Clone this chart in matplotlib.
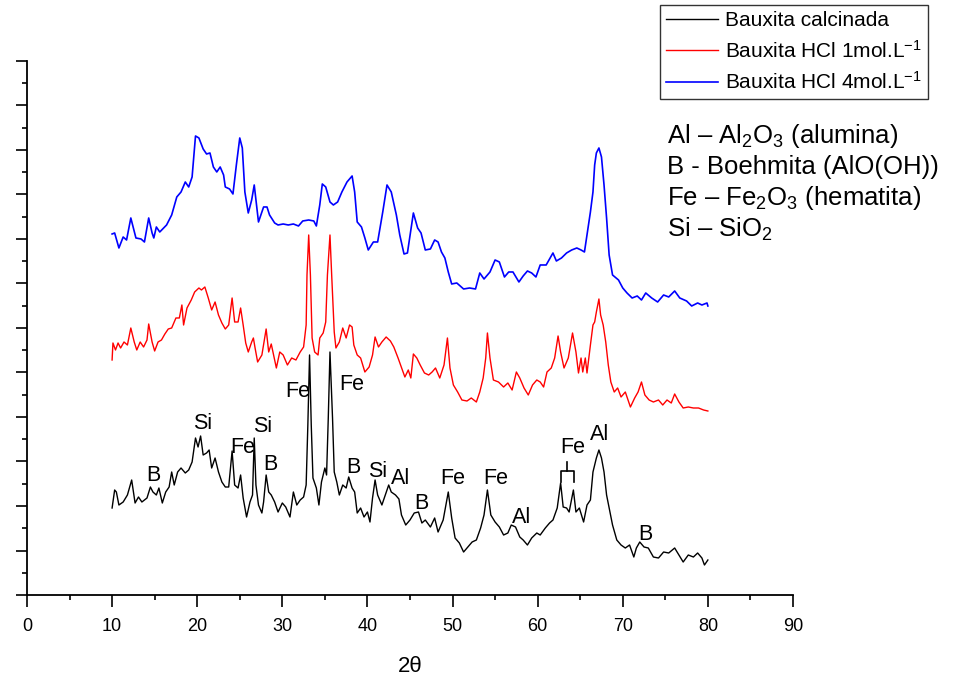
import matplotlib
matplotlib.use("Agg")
import matplotlib.pyplot as plt
from matplotlib.ticker import MultipleLocator

# --- data (2theta, intensity in arbitrary units) ---
blue_x = [10.0, 10.3, 10.8, 11.3, 11.7, 12.2, 12.8, 13.4, 13.8, 14.3, 14.7, 14.9, 15.2, 15.6,
          16.4, 17.0, 17.6, 18.1, 18.6, 19.0, 19.4, 19.8, 20.2, 20.7, 21.1, 21.5, 21.9, 22.3,
          22.7, 23.1, 23.3, 23.8, 24.2, 24.6, 25.0, 25.3, 25.6, 26.0, 26.4, 26.7, 27.2, 27.8,
          28.2, 28.5, 29.1, 29.5, 30.1, 30.7, 31.3, 31.9, 32.4, 33.1, 33.7, 34.0, 34.4, 34.7,
          35.1, 35.6, 36.0, 36.5, 37.0, 37.6, 38.2, 38.5, 38.8, 39.3, 39.7, 40.1, 40.7, 41.2,
          41.8, 42.3, 42.8, 43.4, 43.8, 44.3, 44.7, 45.4, 45.9, 46.3, 46.8, 47.4, 47.9, 48.3,
          48.7, 49.1, 49.5, 49.9, 50.5, 51.3, 52.0, 52.7, 53.2, 53.7, 54.4, 55.0, 55.5, 56.1,
          56.6, 57.1, 57.8, 58.3, 58.8, 59.3, 59.8, 60.3, 61.0, 61.8, 62.2, 62.8, 63.4, 64.0,
          64.6, 65.1, 65.5, 65.8, 66.2, 66.5, 66.7, 66.9, 67.2, 67.5, 67.8, 68.1, 68.4, 68.8,
          69.5, 70.0, 70.5, 71.1, 71.7, 72.2, 72.7, 73.4, 74.1, 74.8, 75.4, 76.1, 76.7, 77.5,
          78.1, 78.8, 79.3, 79.9, 80.0]
blue_y = [361, 362, 347, 358, 355, 377, 357, 356, 353, 377, 362, 357, 368, 363,
          370, 380, 398, 403, 413, 408, 418, 459, 457, 446, 441, 442, 428, 423,
          428, 420, 408, 406, 401, 430, 457, 447, 403, 382, 395, 410, 373, 388,
          388, 380, 372, 370, 371, 370, 371, 369, 374, 375, 374, 369, 390, 411,
          408, 393, 390, 393, 403, 413, 419, 403, 373, 368, 357, 345, 353, 353,
          383, 410, 403, 380, 360, 341, 342, 382, 367, 362, 345, 346, 355, 353,
          343, 337, 323, 311, 312, 306, 307, 306, 322, 316, 323, 335, 333, 318,
          323, 323, 313, 319, 324, 322, 318, 330, 330, 342, 334, 337, 342, 345,
          347, 345, 343, 360, 383, 403, 430, 442, 447, 438, 410, 377, 340, 320,
          315, 307, 302, 297, 299, 295, 302, 297, 293, 300, 298, 304, 297, 294,
          289, 292, 290, 292, 289]

red_x = [10.0, 10.1, 10.4, 10.7, 11.0, 11.4, 11.8, 12.2, 12.6, 12.9, 13.3, 13.7, 14.1, 14.3,
         14.7, 15.0, 15.4, 15.8, 16.2, 16.6, 17.0, 17.5, 17.9, 18.2, 18.4, 18.8, 19.3, 19.7,
         20.2, 20.5, 20.9, 21.3, 21.7, 22.1, 22.5, 22.9, 23.3, 23.7, 24.1, 24.4, 24.8, 25.1,
         25.4, 25.7, 26.0, 26.4, 26.6, 26.8, 27.1, 27.6, 28.1, 28.4, 28.7, 29.3, 29.7, 30.1,
         30.6, 31.1, 31.6, 32.1, 32.5, 32.8, 32.9, 33.1, 33.3, 33.5, 33.8, 34.2, 34.4, 34.8,
         35.1, 35.3, 35.6, 35.8, 36.1, 36.3, 36.7, 37.1, 37.5, 37.9, 38.2, 38.4, 38.8, 39.2,
         39.7, 40.2, 40.6, 40.9, 41.3, 41.7, 42.2, 42.7, 43.1, 43.6, 44.1, 44.4, 44.8, 45.1,
         45.4, 45.8, 46.2, 46.7, 47.2, 47.6, 48.0, 48.5, 49.0, 49.4, 49.7, 50.1, 50.6, 51.1,
         51.7, 52.2, 52.8, 53.2, 53.6, 53.9, 54.1, 54.4, 54.8, 55.4, 56.0, 56.5, 57.0, 57.5,
         57.9, 58.4, 58.9, 59.4, 59.9, 60.3, 60.7, 61.1, 61.6, 62.0, 62.4, 62.7, 63.1, 63.6,
         64.1, 64.5, 64.8, 65.1, 65.3, 65.6, 65.8, 66.2, 66.5, 66.7, 66.9, 67.2, 67.4, 67.7,
         68.0, 68.3, 68.6, 69.0, 69.4, 69.8, 70.3, 70.9, 71.4, 71.8, 72.2, 72.6, 73.1, 73.6,
         74.2, 74.7, 75.2, 75.7, 76.1, 76.6, 77.1, 77.7, 78.3, 78.9, 79.5, 80.0]
red_y = [235, 252, 245, 252, 247, 253, 250, 267, 253, 245, 253, 248, 255, 271,
         253, 244, 253, 255, 261, 266, 267, 277, 277, 290, 270, 287, 295, 303,
         307, 305, 308, 297, 285, 293, 280, 272, 266, 270, 297, 273, 273, 287,
         270, 252, 243, 253, 257, 247, 233, 240, 266, 243, 251, 227, 243, 240,
         230, 237, 235, 243, 248, 270, 320, 360, 320, 257, 243, 240, 257, 262,
         273, 320, 360, 320, 263, 247, 253, 267, 257, 270, 268, 250, 240, 237,
         223, 228, 240, 258, 248, 253, 258, 254, 248, 237, 225, 218, 225, 217,
         241, 237, 230, 222, 220, 223, 227, 217, 230, 257, 227, 210, 203, 195,
         194, 197, 193, 203, 217, 237, 262, 237, 215, 213, 208, 212, 205, 223,
         217, 207, 200, 210, 215, 213, 208, 223, 227, 237, 259, 243, 227, 237,
         262, 243, 222, 237, 223, 237, 222, 250, 270, 273, 283, 296, 280, 270,
         253, 230, 213, 203, 207, 198, 203, 188, 197, 203, 213, 200, 195, 193,
         195, 190, 195, 192, 201, 193, 187, 188, 187, 187, 185, 184]

black_x = [10.0, 10.3, 10.5, 10.8, 11.3, 11.8, 12.3, 12.7, 13.1, 13.5, 14.1, 14.5, 14.8, 15.2,
           15.5, 15.9, 16.3, 16.7, 17.0, 17.3, 17.7, 18.1, 18.6, 19.0, 19.4, 19.8, 20.1, 20.4,
           20.7, 21.1, 21.4, 21.7, 22.1, 22.5, 22.9, 23.3, 23.7, 24.1, 24.4, 24.8, 25.1, 25.4,
           25.8, 26.2, 26.5, 26.7, 26.9, 27.2, 27.6, 27.8, 28.1, 28.4, 28.7, 29.1, 29.5, 30.0,
           30.4, 30.9, 31.3, 31.7, 32.1, 32.5, 32.8, 33.0, 33.2, 33.4, 33.6, 34.0, 34.3, 34.6,
           35.0, 35.2, 35.4, 35.6, 35.9, 36.1, 36.4, 36.7, 37.1, 37.5, 37.8, 38.2, 38.5, 38.8,
           39.2, 39.6, 40.0, 40.3, 40.6, 40.9, 41.2, 41.7, 42.1, 42.5, 42.8, 43.3, 43.7, 44.0,
           44.5, 45.0, 45.5, 46.0, 46.4, 46.8, 47.4, 47.9, 48.3, 48.9, 49.5, 49.9, 50.3, 50.8,
           51.3, 51.8, 52.3, 52.8, 53.3, 53.7, 54.1, 54.5, 55.0, 55.5, 56.0, 56.5, 56.9, 57.4,
           57.9, 58.3, 58.8, 59.3, 59.9, 60.3, 60.9, 61.4, 61.8, 62.3, 62.7, 63.0, 63.4, 63.7,
           64.2, 64.5, 64.9, 65.4, 65.8, 66.2, 66.5, 66.9, 67.2, 67.5, 67.8, 68.1, 68.5, 68.8,
           69.3, 69.8, 70.3, 70.8, 71.3, 71.6, 72.0, 72.5, 73.0, 73.6, 74.2, 74.8, 75.4, 76.1,
           76.6, 77.1, 77.7, 78.3, 78.8, 79.3, 79.6, 80.0]
black_y = [87, 105, 103, 90, 93, 100, 115, 92, 98, 93, 97, 108, 103, 100,
           107, 92, 103, 108, 123, 110, 123, 127, 122, 125, 133, 157, 148, 159,
           140, 142, 145, 127, 137, 123, 113, 108, 108, 144, 110, 107, 120, 97,
           78, 93, 100, 157, 110, 90, 82, 93, 120, 103, 100, 93, 83, 92,
           88, 78, 103, 90, 95, 98, 110, 170, 240, 170, 117, 107, 90, 113,
           127, 120, 177, 243, 177, 123, 113, 100, 110, 107, 118, 107, 103, 82,
           87, 78, 83, 73, 97, 115, 100, 90, 100, 110, 103, 100, 96, 80,
           70, 75, 82, 83, 72, 75, 68, 77, 63, 75, 103, 77, 57, 52,
           43, 48, 53, 55, 67, 80, 105, 80, 73, 68, 60, 62, 70, 68,
           58, 55, 50, 57, 62, 60, 67, 72, 75, 87, 112, 88, 87, 83,
           105, 83, 87, 73, 90, 95, 123, 137, 145, 137, 123, 100, 83, 70,
           55, 50, 47, 50, 38, 47, 53, 48, 47, 38, 37, 43, 42, 47,
           40, 33, 40, 38, 42, 37, 30, 35]

series_labels = ["Bauxita calcinada", "Bauxita HCl 1mol.L$^{-1}$", "Bauxita HCl 4mol.L$^{-1}$"]

# phase labels on the bottom pattern
peak_names = ["B", "Si", "Fe", "Si", "B", "Fe", "Fe", "B", "Si", "Al", "B", "Fe", "Fe", "Al", "Fe", "Al", "B"]
peak_pos = [14.9, 20.6, 25.3, 27.7, 28.6, 31.8, 38.2, 38.3, 41.2, 43.9, 46.3, 50.0, 55.1, 58.1, 64.1, 67.3, 72.7]
peak_h = [120, 171, 147, 168, 130, 203, 210, 127, 123, 117, 92, 117, 117, 78, 147, 160, 61]

# bracket joining the two Fe reflections near 63 degrees
fe_pair = [62.7, 64.3]
fe_pair_h = [113, 124, 133]

phase_key = [
    "Al \u2013 Al$_2$O$_3$ (alumina)",
    "B - Boehmita (AlO(OH))",
    "Fe \u2013 Fe$_2$O$_3$ (hematita)",
    "Si \u2013 SiO$_2$",
]


def main():
    plt.rcParams["font.family"] = ["Liberation Sans", "DejaVu Sans"]
    plt.rcParams["mathtext.fontset"] = "custom"
    plt.rcParams["mathtext.rm"] = "Liberation Sans"
    plt.rcParams["mathtext.it"] = "Liberation Sans:italic"
    plt.rcParams["mathtext.bf"] = "Liberation Sans:bold"

    fig = plt.figure(figsize=(9.57, 6.79), dpi=100)
    ax = fig.add_axes([0.0282, 0.1237, 0.8004, 0.7865])

    l1, = ax.plot(black_x, black_y, color="black", lw=1.0)
    l2, = ax.plot(red_x, red_y, color="#ff0000", lw=1.0)
    l3, = ax.plot(blue_x, blue_y, color="#0000ff", lw=1.2)

    for name, x, y in zip(peak_names, peak_pos, peak_h):
        ax.text(x, y, name, ha="center", va="center", fontsize=15.5)

    # bracket
    ax.plot([fe_pair[0], fe_pair[0], fe_pair[1], fe_pair[1]],
            [fe_pair_h[0], fe_pair_h[1], fe_pair_h[1], fe_pair_h[0]], color="black", lw=1.2)
    mid = sum(fe_pair) / 2
    ax.plot([mid, mid], [fe_pair_h[1], fe_pair_h[2]], color="black", lw=1.2)

    ax.set_xlim(0, 90)
    ax.set_ylim(0, 534)
    ax.xaxis.set_major_locator(MultipleLocator(10))
    ax.xaxis.set_minor_locator(MultipleLocator(5))
    ax.yaxis.set_major_locator(MultipleLocator(44.5))
    ax.yaxis.set_minor_locator(MultipleLocator(22.25))
    ax.set_yticklabels([])

    for s in ["top", "right"]:
        ax.spines[s].set_visible(False)
    for s in ["left", "bottom"]:
        ax.spines[s].set_linewidth(1.3)

    ax.tick_params(axis="x", which="major", direction="out", length=8.5, width=1.2, labelsize=13, pad=8)
    ax.tick_params(axis="x", which="minor", direction="out", length=3.6, width=1.2)
    ax.tick_params(axis="y", which="major", direction="out", length=8, width=1.2)
    ax.tick_params(axis="y", which="minor", direction="out", length=3.6, width=1.2)

    ax.set_xlabel("2\u03b8", fontsize=16, labelpad=15)

    leg = fig.legend([l1, l2, l3], series_labels, loc="upper left",
                     bbox_to_anchor=(660 / 957, 1 - 5 / 679), borderaxespad=0,
                     fontsize=15, frameon=True, fancybox=False, edgecolor="black",
                     handlelength=2.5, handletextpad=0.3, labelspacing=0.45, borderpad=0.3)
    leg.get_frame().set_linewidth(1.0)

    for i, line in enumerate(phase_key):
        fig.text(667 / 957, 1 - (136 + 31 * i) / 679, line, ha="left", va="center", fontsize=18.5)

    fig.savefig("out.png", dpi=100)


if __name__ == "__main__":
    main()
